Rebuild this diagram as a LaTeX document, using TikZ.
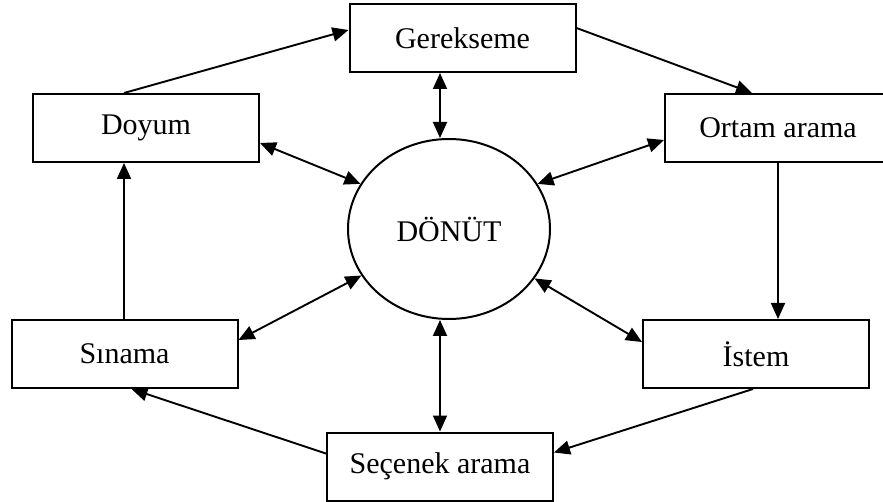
\documentclass[tikz,border=0pt]{standalone}
\usepackage{fontspec}
\setmainfont{Liberation Serif}
\usetikzlibrary{arrows.meta,shapes.geometric,calc}
\begin{document}
\begin{tikzpicture}[x=1pt,y=-1pt,
  box/.style={draw,line width=2pt,minimum width=226pt,minimum height=68pt,inner sep=0pt,font=\fontsize{30}{36}\selectfont},
  circ/.style={draw,ellipse,line width=2pt,minimum width=202pt,minimum height=180pt,inner sep=0pt,font=\fontsize{30}{36}\selectfont},
  conn/.style={line width=1.9pt,-{Triangle[length=16pt,width=14pt]}},
  both/.style={line width=1.9pt,{Triangle[length=16pt,width=14pt]}-{Triangle[length=16pt,width=14pt]}}]
\useasboundingbox (0,0) rectangle (883,502);
\clip (0,0) rectangle (883,502);
\fill[white] (0,0) rectangle (883,502);

\node[box] (g) at (462.5,38) {Gerekseme};
\node[box] (d) at (146,128) {Doyum};
\node[box] (o) at (778,128) {Ortam arama};
\node[box] (s) at (124.5,354) {Sınama};
\node[box] (i) at (756,354) {İstem};
\node[box] (c) at (440,466.5) {Seçenek arama};
\node[circ] (dn) at (449,229) {DÖNÜT};

% cycle
\draw[conn] ($(d.north)+(-22,0)$) -- ($(g.west)+(0,-8)$);
\draw[conn] ($(g.east)+(0,-10)$) -- ($(o.north)+(-26,0)$);
\draw[conn] (o.south) -- (o.south |- i.north);
\draw[conn] ($(i.south)+(-3,0)$) -- ($(c.east)+(0,-14)$);
\draw[conn] ($(c.west)+(0,-13)$) -- ($(s.south)+(7,0)$);
\draw[conn] (s.north -| d.north) ++(-22,0) coordinate (sn) -- (sn |- d.south);

% feedback
\draw[both] (g.south -| c.north) -- (dn.north -| c.north);
\draw[both] (c.north) -- (dn.south -| c.north);
\draw[both] ($(d.east)+(0,15)$) -- (dn.153);
\draw[both] ($(o.west)+(0,12)$) -- (dn.27);
\draw[both] ($(s.east)+(0,-14)$) -- (dn.208);
\draw[both] ($(i.west)+(0,-12)$) -- (dn.330);
\end{tikzpicture}
\end{document}
